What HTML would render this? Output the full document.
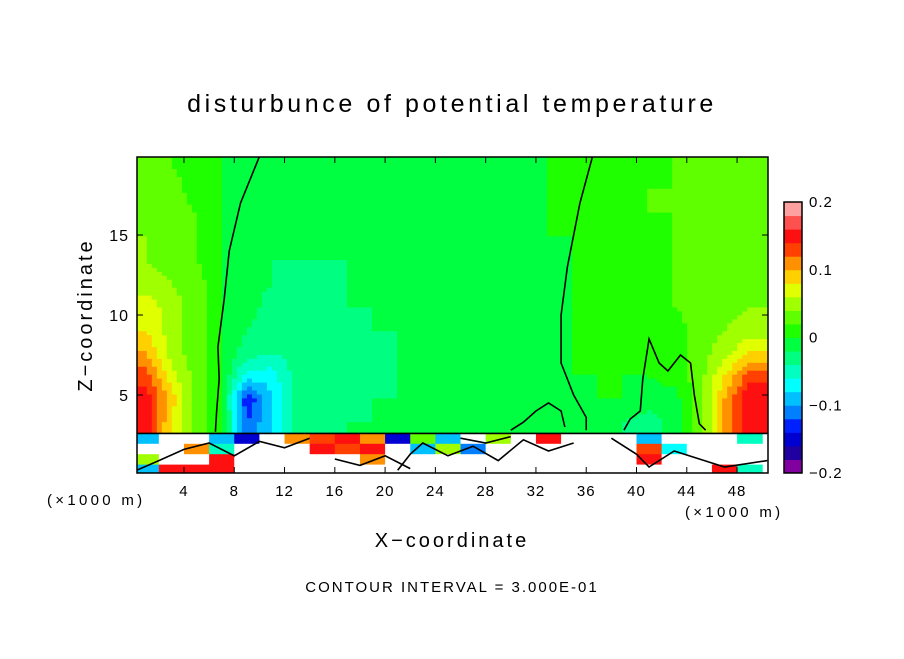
<!DOCTYPE html>
<html><head><meta charset="utf-8"><style>
body{margin:0;background:#fff;}
svg text{font-family:"Liberation Sans",sans-serif;fill:#000;}
</style></head><body>
<svg id="chart" width="904" height="654" viewBox="0 0 904 654" xmlns="http://www.w3.org/2000/svg">
<rect width="904" height="654" fill="#fff"/>
<text x="452" y="112" text-anchor="middle" font-size="25" letter-spacing="3.6">disturbunce of potential temperature</text>
<g id="field"></g>
<g id="contours"></g>
<rect x="137" y="157" width="631" height="316" fill="none" stroke="#000" stroke-width="1.5"/>
<g id="axes"></g>
<g id="cbar"></g>
<text x="47" y="505" font-size="15" letter-spacing="3.3">(×1000 m)</text>
<text x="685" y="517" font-size="15" letter-spacing="3.3">(×1000 m)</text>
<text x="452" y="547" text-anchor="middle" font-size="20" letter-spacing="3">X−coordinate</text>
<text transform="translate(92,315) rotate(-90)" text-anchor="middle" font-size="20" letter-spacing="3">Z−coordinate</text>
<text x="452" y="592" text-anchor="middle" font-size="15" letter-spacing="2">CONTOUR INTERVAL = 3.000E-01</text>
</svg>
<script>
// data (values in hundredths)
const xCenters=[1,3,5,7,9,11,13,15,17,19,21,23,25,27,29,31,33,35,37,39,41,43,45,47,49];
const upperZ=[3.3,4.8,6.2,7.7,9.1,10.6,12.0,13.5,14.9,16.4,17.8,19.3];
const upperVals=[
[15,8,3,0,-12,-8,-3,-3,-2,-2,-2,-1,-1,-1,-1,-1,0,-1,-1,-2,-3,-1,3,10,15],
[15,9,3,0,-14,-8,-3,-3,-3,-2,-2,-1,-1,-2,-1,-1,-1,-1,0,0,-1,-1,3,10,16],
[13,7,3,0,-7,-7,-3,-3,-3,-3,-2,-2,-2,-2,-1,-1,-1,0,0,0,0,1,3,8,13],
[10,5,3,0,-3,-4,-3,-3,-3,-3,-2,-2,-2,-2,-1,-1,-1,0,0,1,1,1,3,5,8],
[8,5,3,0,-2,-3,-3,-3,-3,-2,-2,-2,-2,-1,-1,-1,-1,0,1,1,1,1,3,4,5],
[7,5,3,0,-1,-3,-3,-3,-2,-2,-2,-1,-1,-1,-1,-1,-1,0,1,1,1,2,3,3,4],
[5,4,3,0,-1,-2,-3,-3,-2,-2,-2,-1,-1,-1,-1,-1,-1,0,1,1,1,2,3,3,3],
[4,3,2,0,-1,-2,-2,-2,-2,-2,-1,-1,-1,-1,-1,-1,-1,0,1,1,1,2,3,3,3],
[4,3,2,0,-1,-1,-2,-2,-2,-1,-1,-1,-1,-1,-1,-1,0,0,1,1,1,2,3,3,3],
[3,3,2,0,-1,-1,-1,-1,-1,-1,-1,-1,-1,-1,-1,-1,0,1,1,1,2,2,3,3,3],
[3,3,1,0,-1,-1,-1,-1,-1,-1,-1,-1,-1,-1,-1,-1,0,1,1,1,2,2,2,3,3],
[3,2,1,0,-1,-1,-1,-1,-1,-1,-1,-1,-1,-1,-1,-1,0,1,1,1,1,2,2,3,3]];
const lowerZEdges=[2.6,1.95,1.3,0.65,0.13];
const lowerVals=[
[-10,99,99,-10,-15,99,10,12,15,10,-15,3,-10,99,5,99,15,99,99,99,-10,99,99,99,-5],
[99,99,10,-5,99,99,99,15,12,15,99,-10,5,-12,99,99,99,99,99,99,12,-8,99,99,99],
[5,99,99,15,99,99,99,99,99,10,99,99,99,99,99,99,99,99,99,99,15,99,99,99,99],
[-10,15,15,15,99,99,99,99,99,99,99,99,99,99,99,99,99,99,99,99,99,99,99,15,-5]];
const cbarColors=["#8000a0","#2000a0","#0000d0","#0020ff","#0080ff","#00c0ff","#00ffff","#00ffc0","#00ff80","#00ff40","#20ff00","#60ff00","#a0ff00","#e0ff00","#ffd000","#ff9000","#ff4000","#ff1010","#ff5050","#ffa0a0"];
const cbarLabels=["-0.2","-0.1","0","0.1","0.2"];
const xTicks=[4,8,12,16,20,24,28,32,36,40,44,48];
const yTicks=[5,10,15];
const contourLines=[
[[6.5,2.7],[6.6,4],[6.8,6],[6.7,8],[7.2,11],[7.6,14],[8.5,17],[10,19.9]],
[[36.5,19.9],[35.5,17],[34.5,13],[34,10],[34,7],[35,5],[36,3.6],[36,2.8]],
[[30,2.8],[31,3.3],[32,4],[33,4.5],[34,4],[34.3,3]],
[[39,2.8],[39.5,3.5],[40.3,4],[40.5,6],[41,8.5],[41.8,7],[42.5,6.5],[43.5,7.5],[44.3,7],[44.6,5],[45,3.2],[45.5,2.8]],
[[0.25,2.6],[50.4,2.6]],
[[0.25,0.3],[2,0.9],[4,1.6],[6,2.0],[8,1.2],[10,2.1],[12,1.7],[14,2.3]],
[[21,0.3],[22,1.3],[23,2.0],[25,1.2],[27,1.8],[29,0.9],[31,2.2],[33,1.5],[35,2.0]],
[[38,2.3],[40,1.3],[41,0.5],[43,1.5],[45,1.0],[47,0.5],[50.4,0.9]],
[[16,1.0],[18,0.6],[20,1.2],[22,0.4]],
[[26,2.3],[28,2.0],[30,2.4]]];
const NS="http://www.w3.org/2000/svg";
const X0=133.7,KX=12.57,Y0=475,KY=16;
const xs=v=>X0+KX*v, ys=v=>Y0-KY*v;
const XMIN=0.25,XMAX=50.4,ZMIN=0.13,ZMAX=19.9;
function color(v){if(v>=90)return "#ffffff";let i=Math.floor((v/100+0.2)/0.02+1e-6);i=Math.max(0,Math.min(19,i));return cbarColors[i];}
const field=document.getElementById('field');
function interp(x,z){
  let ci=(x-1)/2, ri;
  ci=Math.max(0,Math.min(xCenters.length-1.0001,ci));
  let r=0; if(z<=upperZ[0]) ri=0; else if(z>=upperZ[upperZ.length-1]) ri=upperZ.length-1.0001;
  else {for(r=0;r<upperZ.length-1;r++){if(z<upperZ[r+1])break;} ri=r+(z-upperZ[r])/(upperZ[r+1]-upperZ[r]);}
  const c0=Math.floor(ci),r0=Math.floor(ri),fc=ci-c0,fr=ri-r0;
  const a=upperVals[r0][c0],b=upperVals[r0][Math.min(c0+1,24)],c=upperVals[Math.min(r0+1,11)][c0],d=upperVals[Math.min(r0+1,11)][Math.min(c0+1,24)];
  return (a*(1-fc)+b*fc)*(1-fr)+(c*(1-fc)+d*fc)*fr;
}
const nx=126,nz=70;
for(let i=0;i<nx;i++){for(let j=0;j<nz;j++){
  const xa=XMIN+(XMAX-XMIN)*i/nx, xb=XMIN+(XMAX-XMIN)*(i+1)/nx;
  const za=2.6+(ZMAX-2.6)*j/nz, zb=2.6+(ZMAX-2.6)*(j+1)/nz;
  const v=interp((xa+xb)/2,(za+zb)/2);
  const r=document.createElementNS(NS,'rect');
  
  
  r.setAttribute('x',xs(xa));r.setAttribute('y',ys(zb));
  r.setAttribute('width',xs(xb)-xs(xa)+0.6);r.setAttribute('height',ys(za)-ys(zb)+0.6);
  r.setAttribute('fill',color(v));field.appendChild(r);
}}
for(let r=0;r<lowerVals.length;r++){for(let c=0;c<xCenters.length;c++){
  const xa=Math.max(XMIN,xCenters[c]-1), xb=Math.min(XMAX,xCenters[c]+1);
  const el=document.createElementNS(NS,'rect');
  
  
  el.setAttribute('x',xs(xa));el.setAttribute('y',ys(lowerZEdges[r]));
  el.setAttribute('width',xs(xb)-xs(xa)+0.5);el.setAttribute('height',ys(lowerZEdges[r+1])-ys(lowerZEdges[r])+0.5);
  el.setAttribute('fill',color(lowerVals[r][c]));field.appendChild(el);
}}
const cg=document.getElementById('contours');
contourLines.forEach(l=>{
  const p=document.createElementNS(NS,'polyline');
  
  
  p.setAttribute('points',l.map(q=>xs(q[0])+','+ys(q[1])).join(' '));
  p.setAttribute('fill','none');p.setAttribute('stroke','#000');p.setAttribute('stroke-width','1.6');
  cg.appendChild(p);
});
const ax=document.getElementById('axes');
xTicks.forEach(t=>{
  const l=document.createElementNS(NS,'line');
  
  
  l.setAttribute('x1',xs(t));l.setAttribute('x2',xs(t));l.setAttribute('y1',473);l.setAttribute('y2',467);l.setAttribute('stroke','#000');ax.appendChild(l);
  const l2=document.createElementNS(NS,'line');
  
  
  l2.setAttribute('x1',xs(t));l2.setAttribute('x2',xs(t));l2.setAttribute('y1',157);l2.setAttribute('y2',163);l2.setAttribute('stroke','#000');ax.appendChild(l2);
  const tx=document.createElementNS(NS,'text');
  
  
  tx.setAttribute('x',xs(t));tx.setAttribute('y',496);tx.setAttribute('text-anchor','middle');tx.setAttribute('font-size','15');tx.setAttribute('letter-spacing','1');tx.textContent=t;ax.appendChild(tx);
});
yTicks.forEach(t=>{
  [[137,143],[768,762]].forEach(pp=>{
  const l=document.createElementNS(NS,'line');
  
  
  l.setAttribute('x1',pp[0]);l.setAttribute('x2',pp[1]);l.setAttribute('y1',ys(t));l.setAttribute('y2',ys(t));l.setAttribute('stroke','#000');ax.appendChild(l);});
  const tx=document.createElementNS(NS,'text');
  
  
  tx.setAttribute('x',129);tx.setAttribute('y',ys(t)+6);tx.setAttribute('text-anchor','end');tx.setAttribute('font-size','16');tx.setAttribute('letter-spacing','1');tx.textContent=t;ax.appendChild(tx);
});
const cb=document.getElementById('cbar');
const CB_T=202,CB_B=473,CB_X=784,CB_W=18,step=(CB_B-CB_T)/cbarColors.length;
cbarColors.forEach((c,i)=>{
  const r=document.createElementNS(NS,'rect');
  
  
  r.setAttribute('x',CB_X);r.setAttribute('y',CB_B-(i+1)*step);r.setAttribute('width',CB_W);r.setAttribute('height',step+0.5);r.setAttribute('fill',c);cb.appendChild(r);
});
const fr=document.createElementNS(NS,'rect');


fr.setAttribute('x',CB_X);fr.setAttribute('y',CB_T);fr.setAttribute('width',CB_W);fr.setAttribute('height',CB_B-CB_T);fr.setAttribute('fill','none');fr.setAttribute('stroke','#000');fr.setAttribute('stroke-width','1.5');cb.appendChild(fr);
cbarLabels.forEach((s,i)=>{
  const tx=document.createElementNS(NS,'text');
  
  
  tx.setAttribute('x',809);tx.setAttribute('y',CB_B-i*(CB_B-CB_T)/4+5);tx.setAttribute('font-size','15');tx.setAttribute('letter-spacing','1');tx.textContent=s.replace('-','−');cb.appendChild(tx);
});
</script>
</body></html>
